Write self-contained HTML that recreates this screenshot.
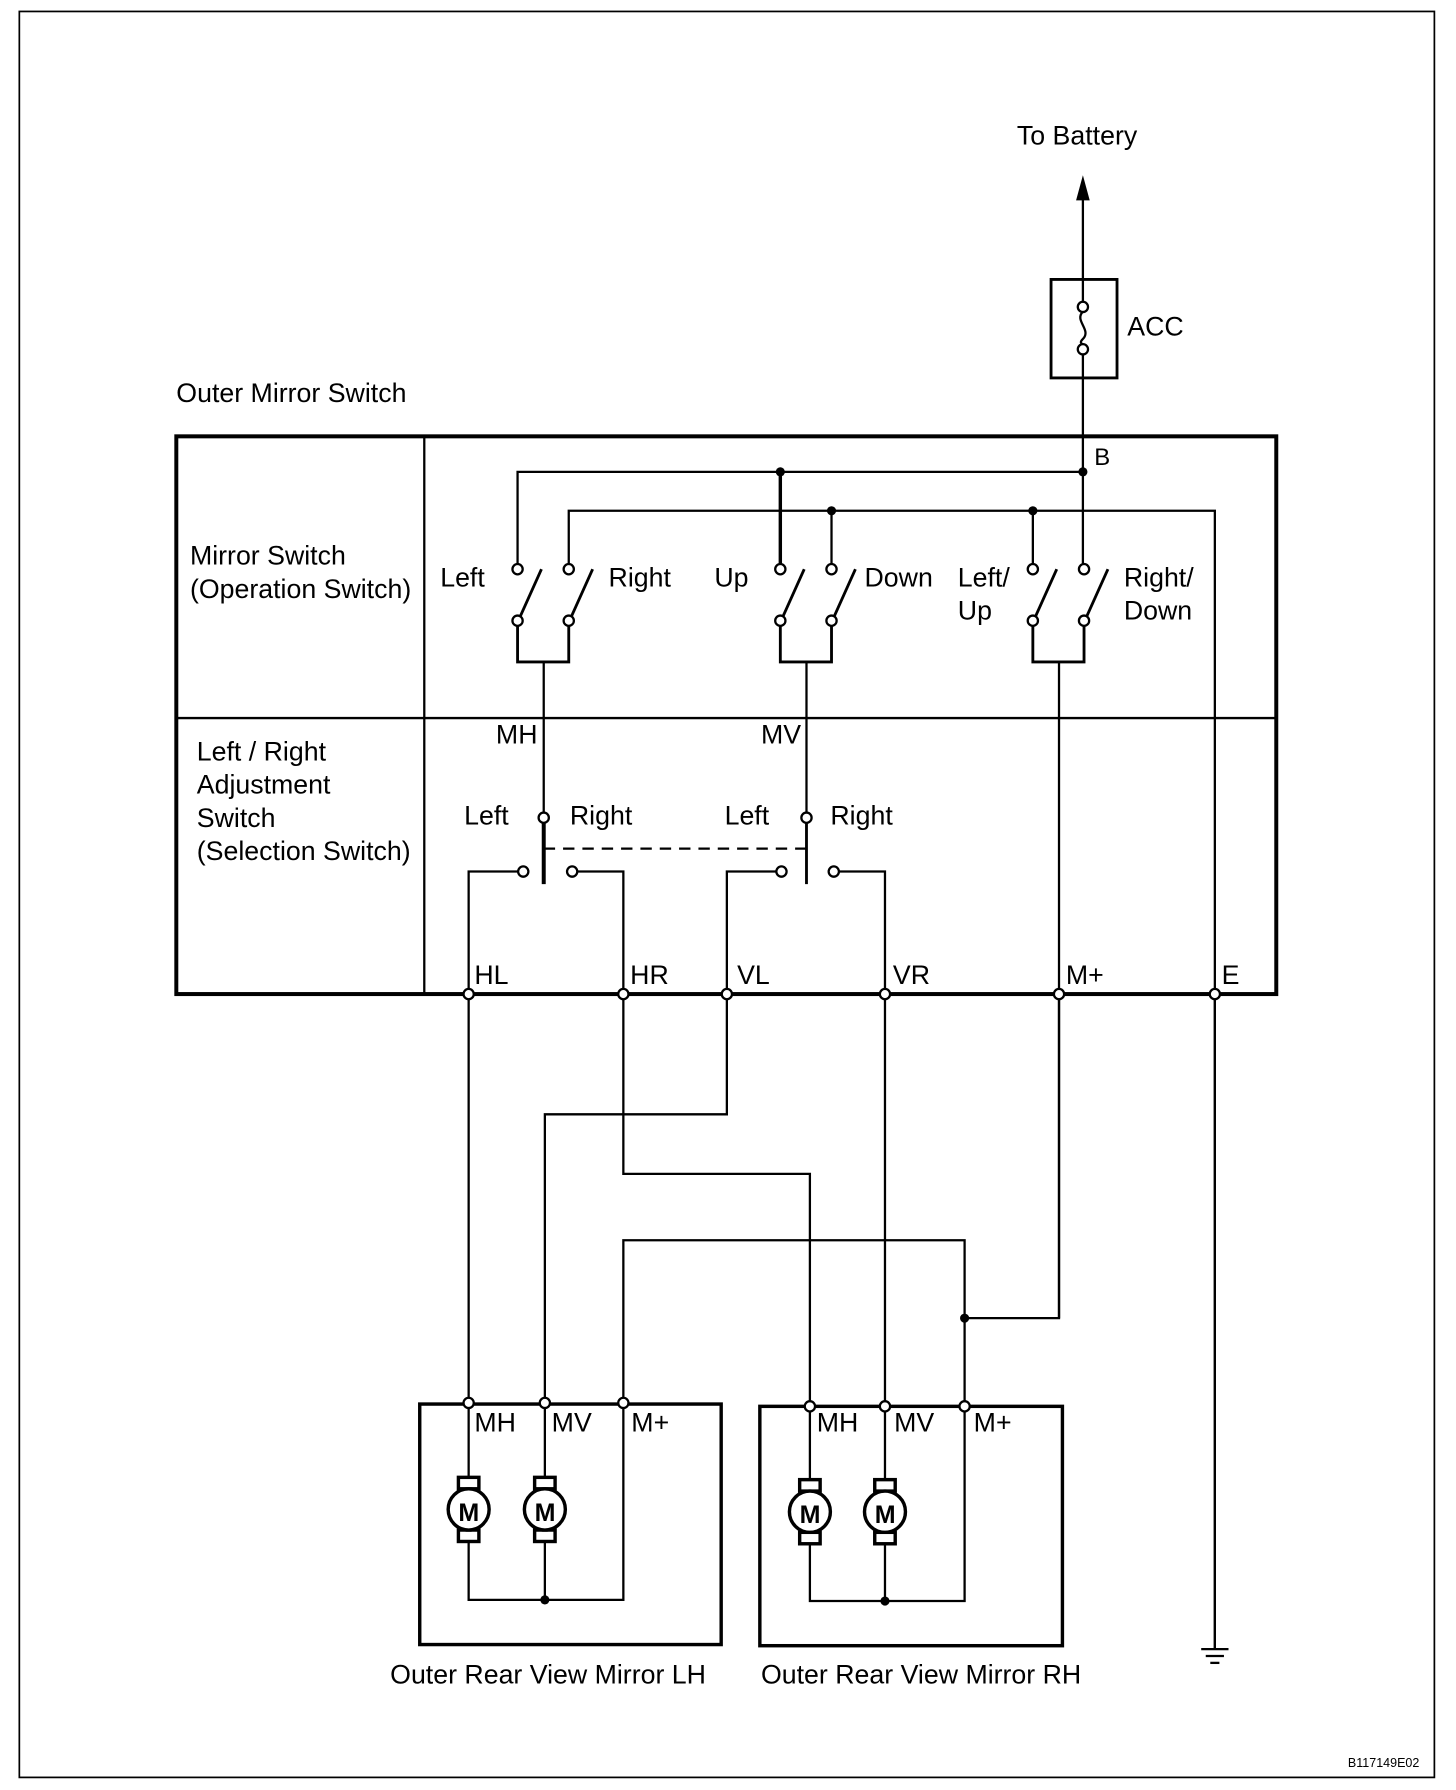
<!DOCTYPE html>
<html><head><style>
html,body{margin:0;padding:0;background:#fff;}
svg{display:block;}
text{font-family:"Liberation Sans",Arial,sans-serif;font-size:23.5px;fill:#000;}
</style></head><body>
<svg width="1456" height="1790" viewBox="0 0 1280 1563" preserveAspectRatio="none" xmlns="http://www.w3.org/2000/svg">
<g fill="none" stroke="#000" stroke-width="2">
<rect x="17" y="10" width="1244" height="1542" stroke-width="1.5"/>
<rect x="155" y="381" width="967" height="487" stroke-width="3.5"/>
<line x1="373" y1="381" x2="373" y2="868"/>
<line x1="155" y1="627" x2="1122" y2="627"/>
<rect x="924" y="244" width="58" height="86" stroke-width="2.5"/>
<line x1="952" y1="170" x2="952" y2="264"/>
<line x1="952" y1="309" x2="952" y2="493"/>
<path d="M952 272 C944 280,960 288,952 296 C948 300,952 300,952 301"/>
<polyline points="455,493 455,412 952,412"/>
<polyline points="500,493 500,446 1068,446 1068,1440"/>
<line x1="686" y1="412" x2="686" y2="493" stroke-width="3"/>
<line x1="731" y1="446" x2="731" y2="493"/>
<line x1="908" y1="446" x2="908" y2="493"/>
<polyline points="455,546 455,578 500,578 500,546" stroke-width="2.5"/>
<polyline points="686,546 686,578 731,578 731,546" stroke-width="2.5"/>
<polyline points="908,546 908,578 953,578 953,546" stroke-width="2.5"/>
<line x1="478" y1="578" x2="478" y2="710"/>
<line x1="709" y1="578" x2="709" y2="710"/>
<line x1="931" y1="578" x2="931" y2="1151"/>
<g stroke-width="2.5">
<line x1="457" y1="539" x2="476" y2="497"/><line x1="502" y1="539" x2="521" y2="497"/>
<line x1="688" y1="539" x2="707" y2="497"/><line x1="733" y1="539" x2="752" y2="497"/>
<line x1="910" y1="539" x2="929" y2="497"/><line x1="955" y1="539" x2="974" y2="497"/>
</g>
<line x1="478" y1="718" x2="478" y2="772" stroke-width="3.5"/>
<line x1="709" y1="718" x2="709" y2="772" stroke-width="2.5"/>
<line x1="478" y1="741" x2="709" y2="741" stroke-dasharray="10,7"/>
<polyline points="456,761 412,761 412,864"/>
<polyline points="507,761 548,761 548,864"/>
<polyline points="683,761 639,761 639,864"/>
<polyline points="737,761 778,761 778,864"/>
<line x1="412" y1="872" x2="412" y2="1222"/>
<polyline points="639,872 639,973 479,973 479,1222"/>
<polyline points="548,872 548,1025 712,1025 712,1224"/>
<line x1="778" y1="872" x2="778" y2="1224"/>
<polyline points="931,872 931,1151 848,1151"/>
<polyline points="848,1224 848,1083 548,1083 548,1222"/>
<line x1="1068" y1="872" x2="1068" y2="1440"/>
<line x1="1056" y1="1440" x2="1080" y2="1440"/>
<line x1="1060" y1="1446" x2="1076" y2="1446"/>
<line x1="1064" y1="1452" x2="1072" y2="1452"/>
<rect x="369" y="1226" width="265" height="210" stroke-width="3"/>
<rect x="668" y="1228" width="266" height="209" stroke-width="3"/>
<polyline points="412,1229 412,1290"/><polyline points="479,1229 479,1290"/>
<polyline points="412,1346 412,1397 548,1397 548,1229"/>
<polyline points="479,1346 479,1397"/>
<polyline points="712,1231 712,1292"/><polyline points="778,1231 778,1292"/>
<polyline points="712,1348 712,1398 848,1398 848,1231"/>
<polyline points="778,1348 778,1398"/>
<g stroke-width="3">
<rect x="403" y="1290" width="18" height="10"/><rect x="403" y="1336" width="18" height="10"/><circle cx="412" cy="1318" r="18" fill="#fff"/>
<rect x="470" y="1290" width="18" height="10"/><rect x="470" y="1336" width="18" height="10"/><circle cx="479" cy="1318" r="18" fill="#fff"/>
<rect x="703" y="1292" width="18" height="10"/><rect x="703" y="1338" width="18" height="10"/><circle cx="712" cy="1320" r="18" fill="#fff"/>
<rect x="769" y="1292" width="18" height="10"/><rect x="769" y="1338" width="18" height="10"/><circle cx="778" cy="1320" r="18" fill="#fff"/>
</g>
</g>
<polygon points="952,153 946,175 958,175" fill="#000"/>
<g fill="#000">
<circle cx="952" cy="412" r="4"/><circle cx="686" cy="412" r="4"/><circle cx="731" cy="446" r="4"/><circle cx="908" cy="446" r="4"/>
<circle cx="848" cy="1151" r="4"/><circle cx="479" cy="1397" r="4"/><circle cx="778" cy="1398" r="4"/>
</g>
<g fill="#fff" stroke="#000" stroke-width="2">
<circle cx="952" cy="268" r="4.5"/><circle cx="952" cy="305" r="4.5"/>
<circle cx="455" cy="497" r="4.5"/><circle cx="500" cy="497" r="4.5"/><circle cx="455" cy="542" r="4.5"/><circle cx="500" cy="542" r="4.5"/>
<circle cx="686" cy="497" r="4.5"/><circle cx="731" cy="497" r="4.5"/><circle cx="686" cy="542" r="4.5"/><circle cx="731" cy="542" r="4.5"/>
<circle cx="908" cy="497" r="4.5"/><circle cx="953" cy="497" r="4.5"/><circle cx="908" cy="542" r="4.5"/><circle cx="953" cy="542" r="4.5"/>
<circle cx="478" cy="714" r="4.5"/><circle cx="709" cy="714" r="4.5"/>
<circle cx="460" cy="761" r="4.5"/><circle cx="503" cy="761" r="4.5"/><circle cx="687" cy="761" r="4.5"/><circle cx="733" cy="761" r="4.5"/>
<circle cx="412" cy="868" r="4.5"/><circle cx="548" cy="868" r="4.5"/><circle cx="639" cy="868" r="4.5"/><circle cx="778" cy="868" r="4.5"/><circle cx="931" cy="868" r="4.5"/><circle cx="1068" cy="868" r="4.5"/>
<circle cx="412" cy="1225" r="4.5"/><circle cx="479" cy="1225" r="4.5"/><circle cx="548" cy="1225" r="4.5"/>
<circle cx="712" cy="1228" r="4.5"/><circle cx="778" cy="1228" r="4.5"/><circle cx="848" cy="1228" r="4.5"/>
</g>
<g>
<text x="894" y="126">To Battery</text>
<text x="991" y="293">ACC</text>
<text x="155" y="351">Outer Mirror Switch</text>
<text x="962" y="406" style="font-size:21px">B</text>
<text x="167" y="493">Mirror Switch</text>
<text x="167" y="522">(Operation Switch)</text>
<text x="387" y="512">Left</text><text x="535" y="512">Right</text>
<text x="628" y="512">Up</text><text x="760" y="512">Down</text>
<text x="842" y="512">Left/</text><text x="842" y="541">Up</text>
<text x="988" y="512">Right/</text><text x="988" y="541">Down</text>
<text x="436" y="649">MH</text><text x="669" y="649">MV</text>
<text x="173" y="664">Left / Right</text><text x="173" y="693">Adjustment</text><text x="173" y="722">Switch</text><text x="173" y="751">(Selection Switch)</text>
<text x="408" y="720">Left</text><text x="501" y="720">Right</text>
<text x="637" y="720">Left</text><text x="730" y="720">Right</text>
<text x="417" y="859">HL</text><text x="554" y="859">HR</text><text x="648" y="859">VL</text><text x="785" y="859">VR</text><text x="937" y="859">M+</text><text x="1074" y="859">E</text>
<text x="417" y="1250">MH</text><text x="485" y="1250">MV</text><text x="555" y="1250">M+</text>
<text x="718" y="1250">MH</text><text x="786" y="1250">MV</text><text x="856" y="1250">M+</text>
<text x="403" y="1328" style="font-size:22px;font-weight:bold">M</text><text x="470" y="1328" style="font-size:22px;font-weight:bold">M</text>
<text x="703" y="1330" style="font-size:22px;font-weight:bold">M</text><text x="769" y="1330" style="font-size:22px;font-weight:bold">M</text>
<text x="343" y="1470">Outer Rear View Mirror LH</text>
<text x="669" y="1470">Outer Rear View Mirror RH</text>
<text x="1185" y="1543" style="font-size:11px">B117149E02</text>
</g>
</svg>
</body></html>
